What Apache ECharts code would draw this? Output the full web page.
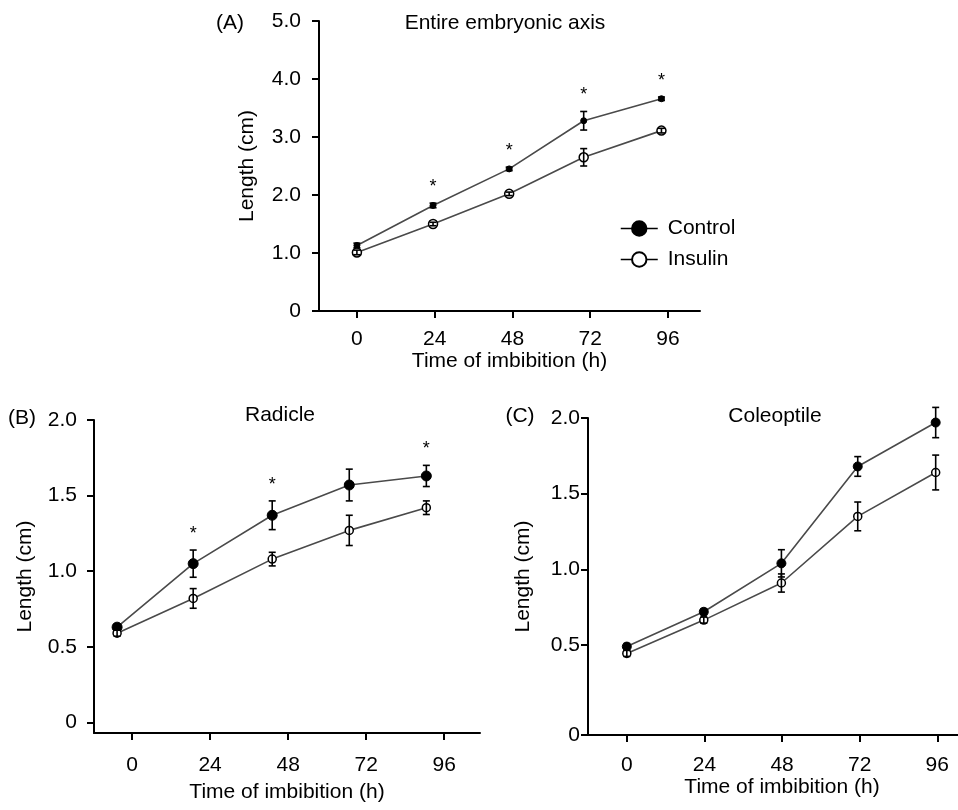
<!DOCTYPE html>
<html>
<head>
<meta charset="utf-8">
<title>Length vs time of imbibition</title>
<script src="https://cdn.jsdelivr.net/npm/echarts@6/dist/echarts.min.js"></script>
<style>
  html, body { margin: 0; padding: 0; background: #fff; }
  #main { width: 958px; height: 810px; }
</style>
</head>
<body>
<div id="main"></div>
<script>
// tick marks on every time axis (h)
var tickHours = [0, 24, 48, 72, 96];

// (A) Entire embryonic axis
var timesA = [0, 23.5, 47, 70, 94];
var controlA = [1.13, 1.82, 2.45, 3.28, 3.66];
var controlErrA = [0.04, 0.04, 0.03, 0.16, 0.03];
var insulinA = [1.01, 1.50, 2.02, 2.65, 3.11];
var insulinErrA = [0.04, 0.03, 0.03, 0.15, 0.04];
var starsA = [0, 1, 1, 1, 1];

// (B) Radicle
var timesB = [-4.6, 18.8, 43.1, 66.8, 90.5];
var controlB = [0.63, 1.05, 1.37, 1.57, 1.63];
var controlErrB = [0.02, 0.09, 0.095, 0.105, 0.07];
var insulinB = [0.59, 0.82, 1.08, 1.27, 1.42];
var insulinErrB = [0.02, 0.065, 0.045, 0.10, 0.045];
var starsB = [0, 1, 1, 0, 1];

// (C) Coleoptile
var timesC = [0, 23.8, 47.8, 71.4, 95.5];
var controlC = [0.49, 0.72, 1.04, 1.68, 1.97];
var controlErrC = [0.02, 0.02, 0.09, 0.065, 0.10];
var insulinC = [0.445, 0.665, 0.91, 1.35, 1.64];
var insulinErrC = [0.02, 0.02, 0.06, 0.095, 0.115];
var starsC = [0, 0, 0, 0, 0];

var FONT = "'Liberation Sans', Arial, Helvetica, sans-serif";
var chart = echarts.init(document.getElementById('main'));

function zip(xs, ys) {
    return xs.map(function (x, i) { return [x, ys[i]]; });
}

function lineSeries(name, idx, xs, ys, size, filled) {
    return {
        name: name,
        type: 'line',
        xAxisIndex: idx,
        yAxisIndex: idx,
        data: zip(xs, ys),
        symbol: 'circle',
        symbolSize: size,
        showSymbol: true,
        z: 2,
        lineStyle: { color: '#4a4a4a', width: 1.6 },
        itemStyle: filled
            ? { color: '#000', borderColor: '#000', borderWidth: 1 }
            : { color: '#fff', borderColor: '#000', borderWidth: 1.5 },
        emphasis: { disabled: true }
    };
}

function errorSeries(idx, xs, ys, errs) {
    var data = xs.map(function (x, i) { return [x, ys[i] - errs[i], ys[i] + errs[i]]; });
    return {
        type: 'custom',
        xAxisIndex: idx,
        yAxisIndex: idx,
        data: data,
        z: 3,
        silent: true,
        encode: { x: 0, y: [1, 2] },
        renderItem: function (params, api) {
            var lo = api.coord([api.value(0), api.value(1)]);
            var hi = api.coord([api.value(0), api.value(2)]);
            var w = 3.5;
            var st = { stroke: '#000', lineWidth: 1.6 };
            return {
                type: 'group',
                children: [
                    { type: 'line', shape: { x1: hi[0], y1: hi[1], x2: lo[0], y2: lo[1] }, style: st },
                    { type: 'line', shape: { x1: hi[0] - w, y1: hi[1], x2: hi[0] + w, y2: hi[1] }, style: st },
                    { type: 'line', shape: { x1: lo[0] - w, y1: lo[1], x2: lo[0] + w, y2: lo[1] }, style: st }
                ]
            };
        }
    };
}

function starSeries(idx, xs, ys, errs, flags) {
    var data = [];
    xs.forEach(function (x, i) {
        if (flags[i]) data.push([x, ys[i] + errs[i]]);
    });
    return {
        type: 'custom',
        xAxisIndex: idx,
        yAxisIndex: idx,
        data: data,
        z: 4,
        silent: true,
        renderItem: function (params, api) {
            var p = api.coord([api.value(0), api.value(1)]);
            return {
                type: 'text',
                x: p[0],
                y: p[1] - 16,
                style: { text: '*', fill: '#000', font: '18px ' + FONT, textAlign: 'center', textVerticalAlign: 'middle' }
            };
        }
    };
}

function xAxis(idx, min, max, labelMargin, nameGap, namePad) {
    return {
        type: 'value',
        gridIndex: idx,
        min: min,
        max: max,
        name: 'Time of imbibition (h)',
        nameLocation: 'middle',
        nameGap: nameGap,
        nameTextStyle: { fontSize: 21, color: '#000', fontFamily: FONT, padding: namePad || 0 },
        axisLine: { onZero: false, lineStyle: { color: '#000', width: 2 } },
        axisTick: { customValues: tickHours, length: 7, lineStyle: { color: '#000', width: 2 } },
        axisLabel: { customValues: tickHours, margin: labelMargin, fontSize: 21, color: '#000', fontFamily: FONT },
        splitLine: { show: false }
    };
}

function yAxis(idx, min, max, ticks, labelMargin, nameGap) {
    return {
        type: 'value',
        gridIndex: idx,
        min: min,
        max: max,
        name: 'Length (cm)',
        nameLocation: 'middle',
        nameGap: nameGap,
        nameTextStyle: { fontSize: 21, color: '#000', fontFamily: FONT },
        axisLine: { onZero: false, lineStyle: { color: '#000', width: 2 } },
        axisTick: { customValues: ticks, length: 7, lineStyle: { color: '#000', width: 2 } },
        axisLabel: {
            customValues: ticks, margin: labelMargin, fontSize: 21, color: '#000', fontFamily: FONT,
            formatter: function (v) { return v < 0.1 ? '0' : v.toFixed(1); }
        },
        splitLine: { show: false }
    };
}

var yTicksA = [0, 1, 2, 3, 4, 5];
var yTicksB = [0, 0.5, 1.0, 1.5, 2.0];
var yMinC = -0.094;
var yTicksC = [yMinC, 0.5, 1.0, 1.5, 2.0];

function title(text, cx, cy) {
    return {
        text: text, left: cx, top: cy - 12, textAlign: 'center', padding: 0,
        textStyle: { fontSize: 21, fontWeight: 'normal', color: '#000', fontFamily: FONT }
    };
}

var option = {
    animation: false,
    backgroundColor: '#fff',
    title: [
        title('(A)', 230, 25),
        title('Entire embryonic axis', 505, 25),
        title('(B)', 22, 420),
        title('Radicle', 280, 417),
        title('(C)', 520, 418),
        title('Coleoptile', 775, 418)
    ],
    legend: {
        data: ['Control', 'Insulin'],
        orient: 'vertical',
        left: 620,
        top: 218,
        padding: 0,
        itemWidth: 37,
        itemHeight: 18,
        itemGap: 10,
        selectedMode: false,
        lineStyle: { color: '#000', width: 1.5 },
        textStyle: { fontSize: 21, color: '#000', fontFamily: FONT, padding: [0, 0, 0, 5] }
    },
    grid: [
        { left: 319, top: 21, width: 381, height: 290 },
        { left: 94, top: 420, width: 386, height: 313 },
        { left: 588, top: 418, width: 370, height: 317 }
    ],
    xAxis: [
        xAxis(0, -11.7, 105.9, 18, 33),
        xAxis(1, -11.7, 107, 22, 49),
        xAxis(2, -12, 102.4, 20, 42, [0, 0, 0, 18])
    ],
    yAxis: [
        yAxis(0, 0, 5, yTicksA, 18, 61),
        yAxis(1, -0.07, 2, yTicksB, 17, 58),
        yAxis(2, yMinC, 2, yTicksC, 8, 54)
    ],
    series: [
        lineSeries('Control', 0, timesA, controlA, 6, true),
        lineSeries('Insulin', 0, timesA, insulinA, 9, false),
        errorSeries(0, timesA, controlA, controlErrA),
        errorSeries(0, timesA, insulinA, insulinErrA),
        starSeries(0, timesA, controlA, controlErrA, starsA),

        lineSeries('Control', 1, timesB, controlB, 10, true),
        lineSeries('Insulin', 1, timesB, insulinB, 8, false),
        errorSeries(1, timesB, controlB, controlErrB),
        errorSeries(1, timesB, insulinB, insulinErrB),
        starSeries(1, timesB, controlB, controlErrB, starsB),

        lineSeries('Control', 2, timesC, controlC, 9, true),
        lineSeries('Insulin', 2, timesC, insulinC, 8, false),
        errorSeries(2, timesC, controlC, controlErrC),
        errorSeries(2, timesC, insulinC, insulinErrC),
        starSeries(2, timesC, controlC, controlErrC, starsC)
    ]
};

chart.setOption(option);
</script>
</body>
</html>
